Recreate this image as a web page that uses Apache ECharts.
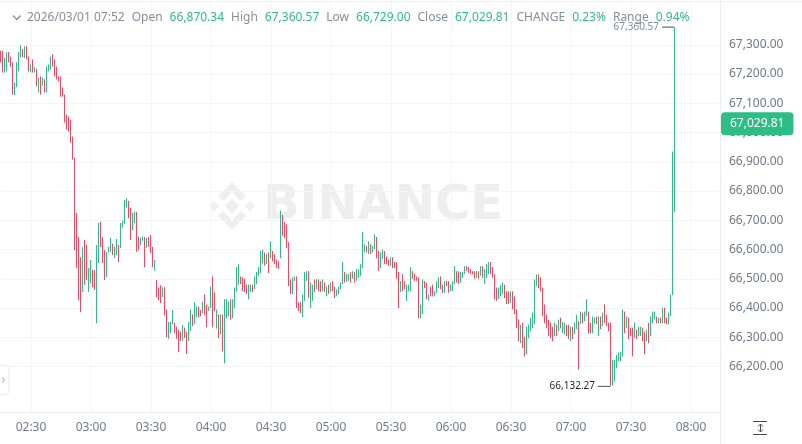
<!DOCTYPE html>
<html><head><meta charset="utf-8">
<script src="https://cdn.jsdelivr.net/npm/echarts@6/dist/echarts.min.js"></script>
<style>html,body{margin:0;padding:0;background:#fff}#c{width:802px;height:444px}</style>
</head><body><div id="c"></div>
<script>
// ---- data (1-minute candles, 02:15 .. 07:52) ----
const opens = [
67275,67255,67210,67230,67270,67255,67235,67135,67160,67220,
67260,67280,67262,67290,67258,67210,67240,67208,67215,67140,
67190,67165,67180,67140,67212,67220,67262,67245,67220,67190,
67185,67150,67130,67060,67050,67040,66985,66910,66700,66600,
66540,66461,66630,66610,66461,66490,66525,66520,66455,66560,
66690,66640,66595,66510,66595,66595,66615,
66575,66585,66615,66610,66680,66690,66750,66765,66720,66670,
66700,66725,66640,66618,66633,66640,66610,66640,66645,66605,
66530,66495,66470,66475,66440,66468,66393,66297,66317,66348,
66348,66334,66324,66317,66290,66331,66317,66290,66325,66375,
66348,66370,66403,66390,66386,66444,66410,66395,66403,66506,
66451,66334,66375,66313,66375,66260,66369,66375,66427,66369,
66403,66461,66485,66506,66502,66496,66478,66434,66457,66478,
66468,66485,66513,66523,66557,66588,66554,66588,66574,66592,
66581,66564,66557,66574,66715,66691,66684,66622,66496,66451,
66496,66506,66417,66417,66375,66427,66496,66523,66403,66427,
66496,66468,66496,66490,66461,66485,66444,66478,66457,66490,
66471,66444,66451,66468,66485,66520,66492,66496,66520,66502,
66520,66496,66506,66513,66540,66592,66609,66588,66616,66592,
66605,66640,66592,66540,66571,66592,66574,66564,66547,66571,
66554,66554,66520,66457,66513,66490,66427,66461,66461,66523,
66513,66506,66502,66369,66382,66490,66485,66427,66471,66478,
66444,66455,66471,66506,66478,66455,66490,66490,66461,66461,
66485,66523,66523,66490,66506,66520,66540,66537,66530,66523,
66523,66506,66523,66513,66540,66485,66506,66520,66554,66537,
66513,66468,66434,66444,66451,66478,66454,66454,66420,66454,
66437,66393,66358,66283,66348,66300,66245,66300,66324,66334,
66348,66478,66513,66502,66468,66410,66375,66358,66348,66334,
66307,66341,66324,66365,66317,66314,66341,66341,66290,66334,
66314,66331,66350,66348,66382,66358,66375,66386,66348,66317,
66351,66369,66307,66369,66341,66410,66375,66348,66348,66140,
66152,66197,66221,66221,66238,66386,66334,66365,66331,66331,
66300,66324,66307,66307,66331,66317,66290,66348,66307,66351,
66365,66369,66351,66365,66351,66399,66365,66348,66375,66729,66870.34
];
const closes = [
67245,67210,67250,67270,67245,67230,67135,67165,67235,67270,
67290,67262,67290,67255,67215,67230,67210,67220,67160,67185,
67135,67185,67140,67220,67230,67255,67230,67195,67185,67177,
67125,67125,67040,67012,67005,66970,66910,66640,66560,66440,
66420,66600,66485,66500,66530,66560,66475,66465,66600,66685,
66615,66560,66500,66585,66605,66635,66585,
66605,66630,66560,66685,66695,66765,66770,66710,66640,66720,
66725,66600,66600,66635,66643,66545,66635,66612,66590,66545,
66560,66440,66430,66420,66468,66380,66305,66350,66350,66390,
66318,66297,66250,66290,66340,66300,66245,66350,66393,66341,
66417,66403,66370,66375,66420,66378,66335,66403,66471,66340,
66393,66393,66300,66375,66255,66427,66427,66420,66365,66427,
66468,66537,66547,66485,66461,66457,66451,66478,66478,66457,
66506,66520,66537,66592,66598,66547,66581,66523,66626,66564,
66554,66540,66537,66729,66650,66643,66609,66478,66451,66502,
66506,66403,66393,66386,66444,66520,66523,66437,66485,66478,
66457,66496,66461,66457,66496,66457,66471,66451,66485,66461,
66437,66461,66471,66485,66554,66490,66513,66513,66490,66523,
66490,66530,66530,66547,66650,66616,66592,66626,66588,66609,
66650,66574,66530,66588,66598,66554,66554,66547,66571,66540,
66540,66502,66403,66490,66461,66468,66478,66478,66537,66502,
66496,66496,66369,66410,66496,66471,66434,66444,66444,66444,
66455,66490,66502,66468,66455,66490,66478,66455,66478,66490,
66540,66490,66485,66520,66520,66540,66530,66523,66520,66518,
66502,66523,66502,66540,66506,66530,66547,66554,66520,66506,
66434,66427,66468,66478,66485,66437,66417,66417,66454,66399,
66382,66334,66290,66341,66266,66238,66334,66341,66365,66382,
66496,66513,66471,66461,66375,66351,66334,66307,66300,66290,
66348,66307,66358,66334,66351,66348,66307,66297,66334,66297,
66348,66375,66290,66386,66351,66386,66427,66317,66317,66369,
66365,66348,66369,66331,66382,66351,66341,66324,66150,66221,
66221,66238,66245,66249,66393,66317,66369,66297,66307,66238,
66348,66297,66334,66334,66290,66245,66324,66283,66369,66386,
66386,66351,66365,66351,66399,66351,66348,66382,66444,66930,67029.81
];
const lows = [
67240,67205,67205,67210,67240,67225,67130,67128,67155,67210,
67258,67258,67255,67250,67209,67205,67205,67205,67158,67137,
67130,67160,67137,67137,67209,67216,67226,67192,67182,67175,
67123,67123,67034,67010,67003,66965,66907,66598,66537,66427,
66386,66455,66480,66496,66455,66485,66471,66461,66348,66554,
66609,66554,66496,66506,66590,66592,66581,
66572,66581,66557,66605,66675,66688,66745,66707,66633,66665,
66691,66592,66598,66615,66630,66540,66605,66609,66588,66540,
66528,66437,66427,66417,66437,66375,66300,66295,66315,66345,
66315,66295,66249,66288,66288,66298,66243,66288,66322,66338,
66345,66368,66368,66372,66383,66375,66334,66390,66400,66334,
66390,66330,66297,66310,66252,66211,66365,66372,66360,66365,
66400,66458,66480,66482,66458,66455,66448,66430,66455,66455,
66465,66482,66510,66520,66554,66545,66550,66520,66570,66560,
66550,66537,66534,66570,66647,66640,66605,66475,66448,66448,
66493,66400,66390,66383,66369,66425,66493,66434,66400,66425,
66455,66465,66458,66455,66458,66455,66440,66448,66455,66458,
66434,66440,66448,66465,66482,66487,66490,66493,66487,66500,
66487,66493,66503,66510,66537,66590,66590,66585,66585,66590,
66602,66570,66527,66537,66568,66550,66550,66544,66544,66537,
66537,66500,66400,66455,66458,66465,66425,66458,66458,66500,
66493,66493,66365,66365,66380,66468,66430,66425,66440,66440,
66440,66452,66468,66465,66452,66452,66475,66452,66458,66458,
66482,66487,66482,66487,66503,66517,66527,66520,66517,66515,
66500,66503,66500,66510,66503,66482,66503,66517,66517,66503,
66430,66425,66430,66440,66448,66434,66414,66414,66417,66396,
66379,66331,66287,66280,66263,66235,66242,66297,66321,66331,
66345,66475,66468,66458,66372,66348,66331,66304,66297,66287,
66304,66304,66321,66331,66314,66311,66304,66294,66287,66294,
66311,66328,66190,66345,66348,66355,66372,66314,66314,66314,
66348,66345,66304,66328,66338,66348,66338,66321,66132.27,66135,
66149,66194,66218,66218,66235,66314,66331,66294,66304,66235,
66297,66294,66304,66304,66287,66242,66287,66280,66304,66348,
66362,66348,66348,66348,66348,66348,66345,66345,66372,66444,66729
];
const highs = [
67280,67280,67255,67275,67275,67260,67240,67170,67240,67275,
67298,67285,67295,67295,67260,67233,67250,67223,67218,67188,
67192,67188,67182,67226,67233,67260,67267,67250,67226,67192,
67192,67154,67130,67061,67055,67044,66986,66914,66725,66643,
66574,66609,66633,66616,66537,66564,66530,66530,66616,66691,
66695,66643,66598,66592,66609,66640,66620,
66609,66636,66616,66691,66698,66770,66775,66766,66743,66725,
66729,66729,66643,66640,66645,66643,66640,66643,66650,66609,
66564,66496,66471,66478,66471,66471,66395,66352,66352,66393,
66350,66336,66326,66318,66342,66333,66318,66352,66395,66378,
66420,66405,66405,66393,66422,66446,66412,66405,66473,66508,
66453,66395,66378,66378,66378,66430,66430,66422,66430,66430,
66470,66540,66550,66508,66505,66500,66480,66480,66480,66480,
66508,66523,66540,66595,66600,66590,66584,66590,66628,66595,
66584,66566,66560,66733,66718,66695,66686,66625,66498,66505,
66508,66508,66420,66420,66446,66523,66526,66526,66487,66480,
66498,66498,66498,66492,66498,66487,66473,66480,66487,66492,
66473,66463,66473,66487,66557,66523,66516,66516,66523,66526,
66523,66533,66533,66550,66660,66618,66612,66628,66618,66612,
66652,66643,66595,66590,66600,66595,66576,66566,66574,66574,
66557,66557,66523,66492,66516,66492,66480,66480,66540,66526,
66516,66508,66505,66412,66498,66492,66487,66446,66473,66480,
66457,66492,66505,66508,66480,66492,66492,66492,66480,66492,
66543,66526,66526,66523,66523,66543,66543,66540,66533,66526,
66526,66526,66526,66543,66543,66533,66550,66557,66557,66540,
66516,66470,66470,66480,66487,66480,66457,66457,66457,66457,
66440,66395,66361,66343,66350,66302,66336,66343,66367,66385,
66498,66515,66515,66505,66470,66412,66377,66360,66350,66336,
66350,66343,66360,66367,66353,66350,66343,66343,66336,66336,
66350,66377,66355,66388,66385,66388,66430,66388,66350,66371,
66367,66371,66371,66371,66385,66412,66377,66350,66350,66223,
66223,66240,66247,66251,66395,66388,66371,66367,66333,66333,
66350,66326,66336,66336,66333,66319,66326,66350,66371,66388,
66388,66371,66367,66367,66401,66401,66367,66385,66446,66935,67360.57
];
const headerDate = '2026/03/01 07:52';
const headerLabels = ['Open', 'High', 'Low', 'Close', 'CHANGE', 'Range'];
const headerValues = ['66,870.34', '67,360.57', '66,729.00', '67,029.81', '0.23%', '0.94%'];
const yLabelMin = 66200, yLabelMax = 67300, yLabelStep = 100;
const firstMinute = 2 * 60 + 15, lastMinute = 8 * 60 + 14;   // category span of the time axis

// ---- build ----
const times = [];
for (let m = firstMinute; m <= lastMinute; m++) {
  times.push(String(Math.floor(m / 60)).padStart(2, '0') + ':' + String(m % 60).padStart(2, '0'));
}
const candles = opens.map((o, i) => [o, closes[i], lows[i], highs[i]]);
const fmt = v => Number(v).toLocaleString('en-US', {minimumFractionDigits: 2, maximumFractionDigits: 2});
let hi = 0, lo = 0;
highs.forEach((h, i) => { if (h > highs[hi]) hi = i; });
lows.forEach((l, i) => { if (l < lows[lo]) lo = i; });
const last = closes.length - 1;
const UP = '#2ebd85', DOWN = '#f6465d', GRID = '#f3f4f6', AX = '#707a8a', FONT = 'Noto Sans';
const showTick = (i, v) => /:(00|30)$/.test(v);

let headerText = '{d|' + headerDate + '}';
headerLabels.forEach((l, i) => { headerText += '{l|' + l + '}{v|' + headerValues[i] + '}'; });

// pixel scale: 66,300 at y=337.3, 0.2925 px per unit
const plotH = 412;
const yMinA = 66044.6, yMaxA = 67453.1;
const gridBTop = 44.8, gridBH = 321.75;

const WM = '#eeeeee';
const chart = echarts.init(document.getElementById('c'), null, {renderer: 'canvas'});
chart.setOption({
  animation: false,
  title: {
    left: 27, top: 10, padding: 0, text: headerText,
    textStyle: {
      fontFamily: FONT, fontSize: 12, fontWeight: 'normal', lineHeight: 16,
      rich: {
        d: {color: '#848e9c', fontFamily: FONT, fontSize: 12, lineHeight: 16, padding: [0, 7, 0, 0]},
        l: {color: '#848e9c', fontFamily: FONT, fontSize: 12, lineHeight: 16, padding: [0, 7, 0, 0]},
        v: {color: UP, fontFamily: FONT, fontSize: 12, lineHeight: 16, padding: [0, 7, 0, 0]}
      }
    }
  },
  grid: [
    {left: 1, top: 0, width: 718, height: plotH},
    {left: 1, top: gridBTop, width: 718, height: gridBH}
  ],
  xAxis: [
    {type: 'category', data: times, boundaryGap: false,
     axisLine: {show: true, lineStyle: {color: '#eaecef'}}, axisTick: {show: false},
     axisLabel: {interval: showTick, color: AX, fontSize: 12, fontFamily: FONT, margin: 10},
     splitLine: {show: true, interval: showTick, lineStyle: {color: GRID}}},
    {gridIndex: 1, type: 'category', data: times, boundaryGap: false, show: false}
  ],
  yAxis: [
    {type: 'value', min: yMinA, max: yMaxA, show: false, splitLine: {show: false}},
    {gridIndex: 1, type: 'value', position: 'right', min: yLabelMin, max: yLabelMax, interval: yLabelStep,
     axisLine: {show: false}, axisTick: {show: false},
     axisLabel: {color: AX, fontSize: 12, fontFamily: FONT, margin: 10, formatter: v => fmt(v)},
     splitLine: {show: true, lineStyle: {color: GRID}}}
  ],
  series: [{
    type: 'candlestick', data: candles, barWidth: 1,
    itemStyle: {color: UP, color0: DOWN, borderColor: UP, borderColor0: DOWN, borderWidth: 1},
    markLine: {
      silent: true, symbol: ['none', 'none'], lineStyle: {color: 'transparent', width: 0},
      label: {show: true, position: 'end', distance: 2, formatter: fmt(closes[last]),
              backgroundColor: UP, color: '#fff', padding: [4, 9, 4, 9], borderRadius: 4,
              fontSize: 12, fontFamily: FONT, lineHeight: 15},
      data: [{yAxis: closes[last]}]
    },
    markPoint: {
      silent: true, symbol: 'rect', symbolSize: [12, 1], symbolOffset: [-7, 0],
      itemStyle: {color: '#474d57'},
      label: {show: true, position: 'left', distance: 3, color: '#474d57', fontSize: 10, fontFamily: FONT,
              formatter: p => fmt(p.value)},
      data: [
        {coord: [times[hi], highs[hi]], value: highs[hi], label: {color: '#848e9c'}},
        {coord: [times[lo], lows[lo]], value: lows[lo], label: {color: '#1e2329'}}
      ]
    }
  }],
  graphic: [
    {type: 'group', silent: true, z: 0, children: [
      {type: 'polygon', shape: {points: [[232, 199], [239, 206], [232, 213], [225, 206]]}, style: {fill: WM}},
      {type: 'polygon', shape: {points: [[209, 206], [214, 201], [219, 206], [214, 211]]}, style: {fill: WM}},
      {type: 'polygon', shape: {points: [[245, 206], [250, 201], [255, 206], [250, 211]]}, style: {fill: WM}},
      {type: 'polygon', shape: {points: [[232, 182], [246, 196], [241, 201], [232, 192], [223, 201], [218, 196]]}, style: {fill: WM}},
      {type: 'polygon', shape: {points: [[232, 230], [246, 216], [241, 211], [232, 220], [223, 211], [218, 216]]}, style: {fill: WM}},
      {type: 'text', x: 263, y: 207, style: {text: 'BINANCE', fill: WM, font: 'bold 48px "DejaVu Sans"', verticalAlign: 'middle'}}
    ]},
    {type: 'polyline', z: 10, silent: true, shape: {points: [[13, 15.5], [16.8, 19.5], [20.6, 15.5]]},
     style: {stroke: '#848e9c', lineWidth: 1.3, fill: null}},
    {type: 'line', z: 1, silent: true, shape: {x1: 0, y1: 1.5, x2: 802, y2: 1.5}, style: {stroke: '#f0f1f2', lineWidth: 1}},
    {type: 'line', z: 1, silent: true, shape: {x1: 720.5, y1: 0, x2: 720.5, y2: 444}, style: {stroke: '#eaecef', lineWidth: 1}},
    {type: 'rect', z: 10, silent: true, shape: {x: -6, y: 365.5, width: 15, height: 29, r: 4},
     style: {fill: '#fff', stroke: '#e6e8ea', lineWidth: 1}},
    {type: 'text', z: 11, silent: true, x: 3.5, y: 380, style: {text: '›', fill: '#b7bdc6', font: '14px "Noto Sans"', align: 'center', verticalAlign: 'middle'}},
    {type: 'group', z: 10, silent: true, x: 760, y: 428, children: [
      {type: 'line', shape: {x1: -7, y1: -6.5, x2: 7, y2: -6.5}, style: {stroke: '#474d57', lineWidth: 1}},
      {type: 'line', shape: {x1: -7, y1: 6.5, x2: 7, y2: 6.5}, style: {stroke: '#474d57', lineWidth: 1}},
      {type: 'line', shape: {x1: 0.5, y1: -4, x2: 0.5, y2: 4}, style: {stroke: '#474d57', lineWidth: 1}},
      {type: 'polyline', shape: {points: [[-2, -1.5], [0.5, -4], [3, -1.5]]}, style: {stroke: '#474d57', lineWidth: 1, fill: null}},
      {type: 'polyline', shape: {points: [[-2, 1.5], [0.5, 4], [3, 1.5]]}, style: {stroke: '#474d57', lineWidth: 1, fill: null}}
    ]}
  ]
});
</script></body></html>
